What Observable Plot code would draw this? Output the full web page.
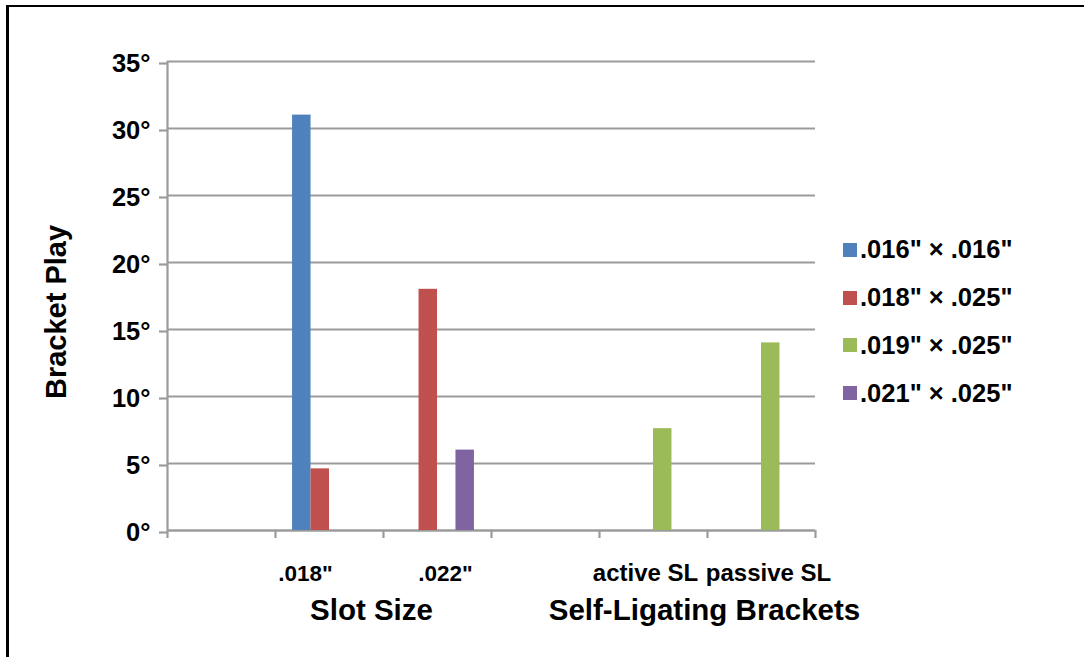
<!DOCTYPE html>
<html>
<head>
<meta charset="utf-8">
<script src="https://cdn.jsdelivr.net/npm/d3@7"></script>
<script src="https://cdn.jsdelivr.net/npm/@observablehq/plot@0.6"></script>
<style>
  html, body { margin: 0; padding: 0; background: #fff; }
  #wrap { position: relative; width: 1084px; height: 657px; overflow: hidden;
          font-family: "Liberation Sans", Arial, Helvetica, sans-serif; }
  #wrap svg { position: absolute; left: 0; top: 0; }
  #border { position: absolute; left: 6px; top: 5px; right: -20px; bottom: -20px;
            border-top: 2.5px solid #000; border-left: 3px solid #000; pointer-events: none; }
  #legend { position: absolute; left: 843px; top: 226px; font-weight: bold; font-size: 25.5px; color: #000; }
  #legend .row { display: flex; align-items: center; height: 47.8px; white-space: nowrap; }
  #legend .sw { width: 14px; height: 14px; margin-right: 3px; flex: none; }
</style>
</head>
<body>
<div id="wrap"><div id="border"></div><div id="legend"></div></div>
<script>
// Categories along the x axis (blank slots keep the spacing between groups)
const categoryLabels = ["", '.018"', '.022"', "", "active SL", "passive SL"];

// Archwire sizes (series)
const wireSizes = ['.016" × .016"', '.018" × .025"', '.019" × .025"', '.021" × .025"'];

// Bracket play in degrees, one entry per category (null = not measured)
const play016x016 = [null, 31, null, null, null, null];
const play018x025 = [null, 4.6, 18, null, null, null];
const play019x025 = [null, null, null, null, 7.6, 14];
const play021x025 = [null, null, 6, null, null, null];

const yTicks = [0, 5, 10, 15, 20, 25, 30, 35];
const yTitle = "Bracket Play";
const groupTitles = ["Slot Size", "Self-Ligating Brackets"];
const groupSpans = [[1, 3], [4, 6]];

const wireColors = ["#4F81BD", "#C0504D", "#9BBB59", "#8064A2"];

// ---- rendering ----
const seriesValues = [play016x016, play018x025, play019x025, play021x025];
const rows = [];
seriesValues.forEach((vals, s) => vals.forEach((v, i) => {
  if (v != null) rows.push({wire: wireSizes[s], s, cat: i, value: v});
}));

const slot = 0.171;               // width of one bar, in category units
const grid = "#9b9b9b";
const labelNudge = [0, -24, 8, 0, -8, 7];
const labelSize = [0, 22.5, 22.5, 0, 24, 24];
const groupNudge = [-12, -3];

const labelMarks = categoryLabels.map((label, i) => label ? Plot.text([label], {
  x: () => i + 0.5, text: d => d, frameAnchor: "bottom", lineAnchor: "bottom",
  dy: 50, dx: labelNudge[i], fontSize: labelSize[i], fill: "#000"
}) : null);

const groupMarks = groupTitles.map((title, g) => Plot.text([title], {
  x: () => (groupSpans[g][0] + groupSpans[g][1]) / 2, text: d => d,
  frameAnchor: "bottom", lineAnchor: "bottom", dy: 89, dx: groupNudge[g],
  fontSize: 29.5, fill: "#000"
}));

const chart = Plot.plot({
  width: 1084,
  height: 657,
  marginLeft: 167,
  marginRight: 269,
  marginTop: 61,
  marginBottom: 127,
  style: {fontFamily: "Liberation Sans, Arial, Helvetica, sans-serif", fontWeight: "bold", color: "#000", background: "transparent"},
  x: {type: "linear", domain: [0, categoryLabels.length], axis: null},
  y: {domain: [0, 35], axis: null},
  color: {domain: wireSizes, range: wireColors},
  marks: [
    Plot.gridY(yTicks, {stroke: grid, strokeOpacity: 1, strokeWidth: 2.2}),
    Plot.ruleX([0], {stroke: grid, strokeWidth: 2.2}),
    Plot.ruleY([0], {stroke: grid, strokeWidth: 2.2}),
    Plot.axisX({ticks: d3.range(0, categoryLabels.length + 1), tickFormat: () => "", tickSize: 8,
                stroke: grid, strokeWidth: 2.2, label: null}),
    Plot.axisY({ticks: yTicks, tickFormat: d => d + "°", tickSize: 8, tickPadding: 9, dy: 2,
                stroke: grid, strokeWidth: 2.2, fill: "#000", fontSize: 25.5, label: null}),
    Plot.rect(rows, {
      x1: d => d.cat + 0.5 + (d.s - 2) * slot,
      x2: d => d.cat + 0.5 + (d.s - 1) * slot,
      y1: 0, y2: "value", fill: "wire"
    }),
    ...labelMarks.filter(Boolean),
    ...groupMarks,
    Plot.text([yTitle], {
      frameAnchor: "left", text: d => d, rotate: -90, lineAnchor: "bottom", textAnchor: "middle",
      dx: -102, dy: 16, fontSize: 29, fill: "#000"
    })
  ]
});

const wrap = document.getElementById("wrap");
wrap.insertBefore(chart, wrap.firstChild);

// Legend built from the chart's own color scale
const color = chart.scale("color");
const legend = document.getElementById("legend");
color.domain.forEach((w, k) => {
  const row = document.createElement("div");
  row.className = "row";
  const sw = document.createElement("span");
  sw.className = "sw";
  sw.style.background = color.range[k];
  const tx = document.createElement("span");
  tx.textContent = w;
  row.append(sw, tx);
  legend.append(row);
});
</script>
</body>
</html>
